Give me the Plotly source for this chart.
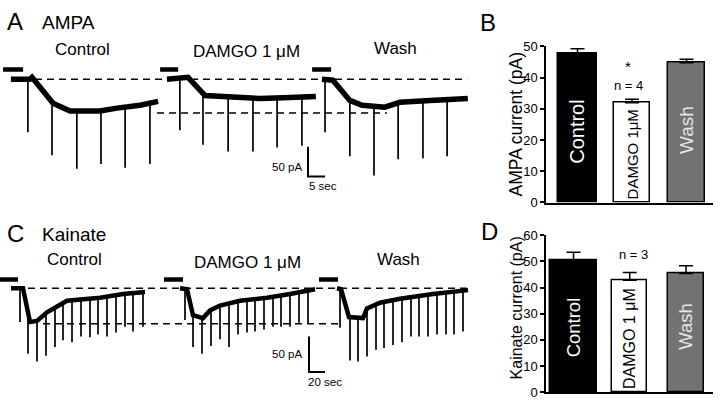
import plotly.graph_objects as go

W, H = 720, 406
def px(x): return x / W
def py(y): return 1 - y / H

FONT = "Liberation Sans, Arial, Helvetica, sans-serif"

# ---------------- Panel A (AMPA): time (s), current (pA) ----------------
ampa_ctrl_t = [3.2, 8.8, 9.4, 15.6, 20.6, 29.4, 34.4, 41.2, 46.5]
ampa_ctrl_i = [0, 0, 3.2, -40.3, -53.2, -53.2, -48.4, -43.5, -37.1]
ampa_ctrl_spk_t = [8.2, 15.3, 22.6, 29.7, 36.8, 44.1]
ampa_ctrl_spk_base = [0, -38.7, -53, -53, -47, -40]
ampa_ctrl_spk_peak = [-88.7, -127.4, -150, -141.9, -148.4, -141.9]

ampa_damgo_t = [49.1, 55.3, 60.3, 67.6, 76.5, 85.3, 92.9]
ampa_damgo_i = [0, 3.2, -27.4, -30.6, -32.3, -30.6, -29.0]
ampa_damgo_spk_t = [52.9, 59.7, 67.1, 74.4, 81.5, 88.8]
ampa_damgo_spk_base = [0, -24.2, -30.6, -32, -31, -29.5]
ampa_damgo_spk_peak = [-85.5, -109.7, -121, -121, -114.5, -111.3]

ampa_wash_t = [94.7, 97.9, 102.9, 106.5, 113.2, 117.6, 126.5, 137.6]
ampa_wash_i = [0, -1.6, -35.5, -43.5, -46.8, -38.7, -35.5, -32.3]
ampa_wash_spk_t = [95.6, 102.9, 110.0, 117.1, 124.4, 131.5]
ampa_wash_spk_base = [0, -35, -46, -39, -36, -34]
ampa_wash_spk_peak = [-88.7, -129, -161.3, -133.9, -132.3, -129]

ampa_drug_bars = [(0.9, 6.8), (47.1, 52.4), (91.8, 97.4)]
ampa_drug_level = 16.1
ampa_dash_top = (10.3, 137.4, 0)
ampa_dash_low = (46.2, 113.8, -56.5)
ampa_scale = dict(t=90.6, i=-162.9, dt=5, di=50)

# ---------------- Panel C (Kainate): time (s), current (pA) ----------------
kai_ctrl_t = [13.75, 28.75, 37.5, 46.25, 58.75, 75, 83.75, 125, 153.75, 181.25]
kai_ctrl_i = [0, 0, -47.3, -45.9, -33.8, -24.3, -17.6, -13.5, -8.1, -5.4]
kai_ctrl_spk_t = [25, 35, 46.25, 57.5, 68.75, 78.75, 90, 101.25, 112.5, 122.5,
                  133.75, 145, 156.25, 166.25, 178.75]
kai_ctrl_spk_base = [0, -40, -45.9, -34, -28, -21, -16, -15, -14, -13.5,
                     -12, -11, -8, -7, -6]
kai_ctrl_spk_peak = [-47.3, -91.9, -102.7, -94.6, -82.4, -73, -75.7, -67.6, -68.9, -64.9,
                     -67.6, -62.2, -54.1, -60.8, -54.1]

kai_damgo_t = [225, 233.75, 241.25, 253.75, 262.5, 275, 300, 333.75, 362.5, 393.75]
kai_damgo_i = [0, -1.4, -37.8, -41.9, -31.1, -24.3, -17.6, -13.5, -8.1, -1.4]
kai_damgo_spk_t = [231.25, 241.25, 252.5, 263.75, 275, 286.25, 297.5, 308.75, 318.75,
                   330, 341.25, 351.25, 362.5, 373.75, 385]
kai_damgo_spk_base = [0, -38, -42, -31, -24, -21, -18, -16, -15, -14, -12, -10, -8, -6, -4]
kai_damgo_spk_peak = [-44.6, -82.4, -91.9, -81.1, -71.6, -82.4, -64.9, -62.2, -60.8,
                      -58.1, -54.1, -54.1, -54.1, -48.6, -50]

kai_wash_t = [421.25, 426.25, 436.25, 453.75, 458.75, 475, 500, 541.25, 585]
kai_wash_i = [0, -1.4, -40.5, -41.9, -28.4, -20.3, -14.9, -8.1, -2.7]
kai_wash_spk_t = [425, 437.5, 447.5, 458.75, 470, 480, 491.25, 502.5, 513.75, 523.75,
                  535, 546.25, 557.5, 567.5, 578.75]
kai_wash_spk_base = [0, -40, -41, -28, -22, -19, -17, -15, -13, -11, -9, -8, -7, -5, -4]
kai_wash_spk_peak = [-55.4, -101.4, -102.7, -95.9, -86.5, -83.8, -79.7, -75.7, -67.6,
                     -67.6, -67.6, -64.9, -64.9, -64.9, -60.8]

kai_drug_bars = [(0, 22.5), (205, 228.75), (398.75, 422.5)]
kai_drug_level = 12.2
kai_dash_top = (35, 585, 0)
kai_dash_low = (53.75, 427.5, -50)
kai_scale = dict(t=386.25, i=-117.6, dt=20, di=50)

# ---------------- Bar charts ----------------
bar_labels_B = ["Control", "DAMGO 1μM", "Wash"]
ampa_mean = [47.9, 32.0, 44.8]
ampa_sem = [1.4, 1.1, 1.1]

bar_labels_D = ["Control", "DAMGO 1 μM", "Wash"]
kai_mean = [50.6, 42.8, 45.4]
kai_sem = [2.9, 3.0, 2.9]

bar_fill = ["#000000", "#ffffff", "#727272"]
bar_text_color = ["#ffffff", "#000000", "#e6e6e6"]

fig = go.Figure()

def add_sweep(xa, ya, t, i, st, sb, sp, band):
    fig.add_trace(go.Scatter(x=t, y=i, mode="lines", xaxis=xa, yaxis=ya,
                             line=dict(color="black", width=band), hoverinfo="skip"))
    xs, ys = [], []
    for a, b, c in zip(st, sb, sp):
        xs += [a, a, None]
        ys += [b, c, None]
    fig.add_trace(go.Scatter(x=xs, y=ys, mode="lines", xaxis=xa, yaxis=ya,
                             line=dict(color="black", width=1.7), hoverinfo="skip"))

def add_extras(xa, ya, bars, level, dtop, dlow, sc):
    for d in (dtop, dlow):
        fig.add_trace(go.Scatter(x=[d[0], d[1]], y=[d[2], d[2]], mode="lines",
                                 xaxis=xa, yaxis=ya,
                                 line=dict(color="black", width=1.5, dash="7px,5px"),
                                 hoverinfo="skip"))
    for b0, b1 in bars:
        fig.add_trace(go.Scatter(x=[b0, b1], y=[level, level], mode="lines",
                                 xaxis=xa, yaxis=ya,
                                 line=dict(color="black", width=4.5), hoverinfo="skip"))
    fig.add_trace(go.Scatter(x=[sc["t"], sc["t"], sc["t"] + sc["dt"]],
                             y=[sc["i"] + sc["di"], sc["i"], sc["i"]], mode="lines",
                             xaxis=xa, yaxis=ya,
                             line=dict(color="black", width=2), hoverinfo="skip"))

# Panel A
add_sweep("x", "y", ampa_ctrl_t, ampa_ctrl_i, ampa_ctrl_spk_t, ampa_ctrl_spk_base, ampa_ctrl_spk_peak, 5.5)
add_sweep("x", "y", ampa_damgo_t, ampa_damgo_i, ampa_damgo_spk_t, ampa_damgo_spk_base, ampa_damgo_spk_peak, 5.5)
add_sweep("x", "y", ampa_wash_t, ampa_wash_i, ampa_wash_spk_t, ampa_wash_spk_base, ampa_wash_spk_peak, 5.5)
add_extras("x", "y", ampa_drug_bars, ampa_drug_level, ampa_dash_top, ampa_dash_low, ampa_scale)

# Panel C
add_sweep("x3", "y3", kai_ctrl_t, kai_ctrl_i, kai_ctrl_spk_t, kai_ctrl_spk_base, kai_ctrl_spk_peak, 4.5)
add_sweep("x3", "y3", kai_damgo_t, kai_damgo_i, kai_damgo_spk_t, kai_damgo_spk_base, kai_damgo_spk_peak, 4.5)
add_sweep("x3", "y3", kai_wash_t, kai_wash_i, kai_wash_spk_t, kai_wash_spk_base, kai_wash_spk_peak, 4.5)
add_extras("x3", "y3", kai_drug_bars, kai_drug_level, kai_dash_top, kai_dash_low, kai_scale)

# Bar panels
def add_bars(xa, ya, means, sems, widths):
    fig.add_trace(go.Bar(x=[0, 1, 2], y=means, width=widths, xaxis=xa, yaxis=ya,
                         marker=dict(color=bar_fill, line=dict(color="black", width=1.5)),
                         error_y=dict(type="data", array=sems, arrayminus=[0, 0, 0],
                                      symmetric=False, color="black", thickness=1.5, width=7),
                         hoverinfo="skip"))

add_bars("x2", "y2", ampa_mean, ampa_sem, [0.716, 0.66, 0.68])
add_bars("x4", "y4", kai_mean, kai_sem, [0.836, 0.622, 0.64])

hidden = dict(visible=False, showgrid=False, zeroline=False)
ytick_common = dict(ticks="outside", ticklen=4, tickwidth=1.5, tickcolor="black",
                    showline=True, linecolor="black", linewidth=1.5, showgrid=False,
                    zeroline=False, tickfont=dict(size=13, family=FONT))
fig.update_layout(
    width=W, height=H, autosize=False,
    margin=dict(l=0, r=0, t=0, b=0),
    paper_bgcolor="white", plot_bgcolor="rgba(0,0,0,0)",
    showlegend=False,
    font=dict(family=FONT, color="black"),
    bargap=0,
    xaxis=dict(domain=[0, px(485)], range=[0, 142.65], **hidden),
    yaxis=dict(domain=[py(200), py(55)], range=[-201.6, 32.26], **hidden),
    xaxis3=dict(domain=[0, px(485)], range=[0, 606.25], **hidden),
    yaxis3=dict(domain=[py(400), py(270)], range=[-145.9, 29.7], **hidden),
    xaxis2=dict(domain=[px(546), px(713)], range=[-0.578, 2.486], anchor="y2",
                showgrid=False, zeroline=False, showticklabels=False, ticks="",
                showline=True, linecolor="black", linewidth=1.5),
    yaxis2=dict(domain=[py(203), py(41)], range=[0, 50], anchor="x2",
                tickvals=[0, 10, 20, 30, 40, 50], **ytick_common),
    xaxis4=dict(domain=[px(546), px(713)], range=[-0.489, 2.48], anchor="y4",
                showgrid=False, zeroline=False, showticklabels=False, ticks="",
                showline=True, linecolor="black", linewidth=1.5),
    yaxis4=dict(domain=[py(400), py(237)], range=[0, 60], anchor="x4",
                tickvals=[0, 10, 20, 30, 40, 50, 60], **ytick_common),
)

def label(text, x, y, size, xanchor="center", angle=0, color="black", yanchor="middle"):
    fig.add_annotation(text=text, x=px(x), y=py(y), xref="paper", yref="paper",
                       showarrow=False, xanchor=xanchor, yanchor=yanchor,
                       textangle=angle, font=dict(size=size, family=FONT, color=color))

label("A", 15, 15, 24)
label("AMPA", 68.5, 16, 19)
label("Control", 82.5, 44, 17)
label("DAMGO 1 μM", 246.5, 46, 17)
label("Wash", 395, 43, 17)
label("50 pA", 304, 166, 11.5, xanchor="right")
label("5 sec", 307, 186, 11.5, xanchor="left")

label("C", 15.5, 235, 24)
label("Kainate", 74, 236, 19)
label("Control", 74, 262, 17)
label("DAMGO 1 μM", 247, 265, 17)
label("Wash", 398.5, 262, 17)
label("50 pA", 304, 360, 11.5, xanchor="right")
label("20 sec", 306, 389, 11.5, xanchor="left")

label("B", 488, 16, 24)
label("AMPA current (pA)", 516, 122, 17.5, angle=-90)
label("n = 4", 628, 72, 13, yanchor="top")
label("*", 628, 73, 15, yanchor="bottom")
label("D", 489, 233, 24)
label("Kainate current (pA)", 516, 313, 16, angle=-90)
label("n = 3", 633, 257, 13)

# labels inside bars
b_label_y = [22.5, 15.4, 23.1]
b_label_size = [20, 15, 19]
for k in range(3):
    fig.add_annotation(text=bar_labels_B[k], x=k, y=b_label_y[k], xref="x2", yref="y2",
                       showarrow=False, textangle=-90,
                       font=dict(size=b_label_size[k], family=FONT, color=bar_text_color[k]))
d_label_y = [24.6, 20.6, 25.0]
d_label_size = [18.5, 16, 18.5]
for k in range(3):
    fig.add_annotation(text=bar_labels_D[k], x=k, y=d_label_y[k], xref="x4", yref="y4",
                       showarrow=False, textangle=-90,
                       font=dict(size=d_label_size[k], family=FONT, color=bar_text_color[k]))

fig.write_html("out.html", config={"displayModeBar": False},
               post_script="document.body.style.margin='0';")
